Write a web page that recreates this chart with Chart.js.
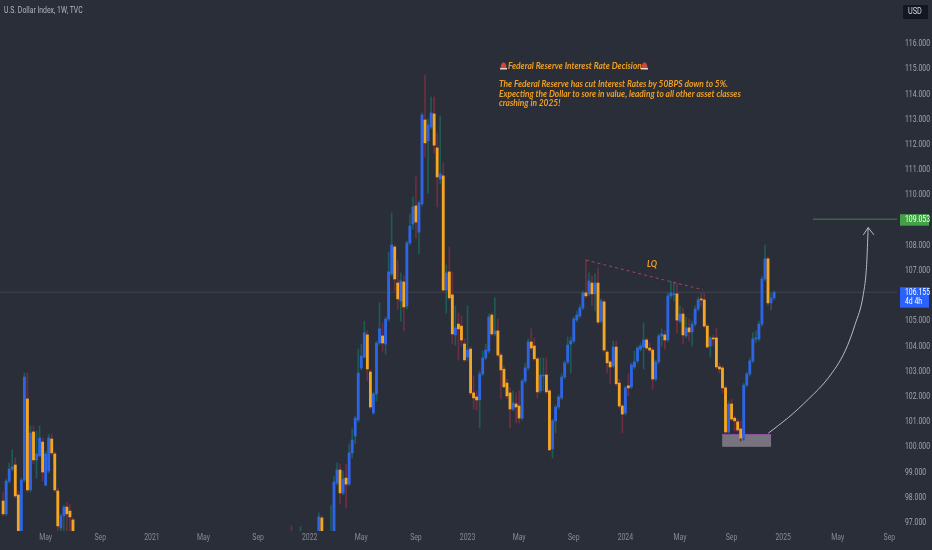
<!DOCTYPE html>
<html>
<head>
<meta charset="utf-8">
<title>U.S. Dollar Index</title>
<script src="https://cdn.jsdelivr.net/npm/chart.js@4"></script>
<style>
  html, body { margin: 0; padding: 0; background: #2a2e39; overflow: hidden; }
  canvas { display: block; }
</style>
</head>
<body>
<canvas id="dxyChart" width="932" height="550"></canvas>
<script>
// Weekly candles, x is the week number counted from the first visible bar.
// Weeks between the runs sit below the visible price range.
const weeks = [
    0, 1, 2, 3, 4, 5, 6, 7, 8, 9, 10, 11, 12, 13, 14, 15, 16, 17, 18, 19, 20, 21, 22, 23,
    95, 98, 104, 105,
    108, 109, 110, 111, 112, 113, 114, 115, 116, 117, 118, 119, 120, 121, 122, 123, 124, 125, 126, 127,
    128, 129, 130, 131, 132, 133, 134, 135, 136, 137, 138, 139, 140, 141, 142, 143, 144, 145, 146, 147,
    148, 149, 150, 151, 152, 153, 154, 155, 156, 157, 158, 159, 160, 161, 162, 163, 164, 165, 166, 167,
    168, 169, 170, 171, 172, 173, 174, 175, 176, 177, 178, 179, 180, 181, 182, 183, 184, 185, 186, 187,
    188, 189, 190, 191, 192, 193, 194, 195, 196, 197, 198, 199, 200, 201, 202, 203, 204, 205, 206, 207,
    208, 209, 210, 211, 212, 213, 214, 215, 216, 217, 218, 219, 220, 221, 222, 223, 224, 225, 226, 227,
    228, 229, 230, 231, 232, 233, 234, 235, 236, 237, 238, 239, 240, 241, 242, 243, 244, 245, 246, 247,
    248, 249, 250, 251, 252, 253, 254
];
const opens = [
    97.87, 97.36, 98.66, 99.14, 99.30, 98.11, 96.64, 98.70, 101.92, 98.31, 100.61, 99.50, 99.66, 100.21, 98.50, 99.06, 100.33, 99.74, 98.27, 96.80, 97.28, 97.63, 97.47, 97.12,
    96.50, 96.30, 96.60, 97.20,
    96.30, 96.60, 98.58, 99.10, 98.19, 98.78, 98.54, 99.78, 100.45, 101.08, 103.15, 103.58, 104.46, 102.99, 101.36, 102.12, 104.14, 104.42, 104.10, 105.09,
    106.88, 107.95, 106.52, 105.81, 106.56, 105.61, 108.11, 108.86, 109.58, 108.54, 109.66, 112.99, 112.16, 112.71, 113.23, 111.88, 110.65, 110.77, 106.24, 106.96,
    106.05, 104.46, 104.89, 104.81, 104.10, 103.58, 103.90, 102.16, 102.00, 101.88, 102.91, 103.55, 103.82, 105.25, 104.50, 104.62, 103.66, 103.10, 102.55, 102.16,
    101.52, 101.72, 101.64, 101.16, 102.63, 103.15, 104.18, 104.02, 103.51, 102.24, 102.83, 102.87, 102.24, 99.94, 101.05, 101.60, 101.96, 102.79, 103.39, 104.10,
    104.22, 105.05, 105.21, 105.53, 106.13, 106.09, 106.52, 106.09, 106.52, 105.01, 105.77, 103.78, 103.39, 103.23, 103.98, 102.55, 101.64, 101.36, 102.44, 102.40,
    103.19, 103.43, 103.90, 103.98, 104.26, 103.94, 103.86, 102.71, 103.39, 104.42, 104.46, 104.26, 106.01, 106.05, 106.09, 105.01, 105.29, 104.42, 104.74, 104.58,
    104.89, 105.49, 105.89, 105.85, 104.81, 104.02, 104.34, 104.34, 103.19, 103.15, 102.36, 100.61, 101.72, 101.16, 101.01, 100.73, 100.37, 102.47, 102.91, 103.43,
    104.30, 104.30, 104.89, 106.68, 107.48, 105.73, 105.93
];
const closes = [
    97.36, 98.66, 99.14, 99.22, 98.07, 96.64, 98.70, 102.79, 98.31, 100.57, 99.50, 99.74, 100.37, 99.02, 99.74, 100.37, 99.78, 98.31, 96.88, 97.28, 97.63, 97.36, 97.24, 96.64,
    96.40, 96.50, 97.24, 96.60,
    96.50, 98.62, 99.10, 98.19, 98.74, 98.54, 99.78, 100.29, 101.16, 102.95, 103.62, 104.54, 103.11, 101.60, 102.12, 104.14, 104.70, 104.14, 105.09, 106.96,
    108.03, 106.68, 105.89, 106.60, 105.57, 108.11, 108.78, 109.54, 108.94, 109.70, 113.19, 112.08, 112.79, 113.27, 111.99, 110.73, 110.85, 106.24, 106.92, 105.93,
    104.50, 104.74, 104.70, 104.26, 103.47, 103.86, 102.16, 101.96, 101.88, 102.91, 103.55, 103.86, 105.17, 104.50, 104.62, 103.66, 103.07, 102.40, 102.04, 101.52,
    101.76, 101.60, 101.16, 102.63, 103.15, 104.18, 103.94, 103.51, 102.20, 102.87, 102.87, 102.20, 99.90, 101.05, 101.60, 102.00, 102.79, 103.35, 104.06, 104.22,
    105.09, 105.25, 105.53, 106.13, 106.01, 106.60, 106.09, 106.52, 104.97, 105.81, 103.86, 103.35, 103.19, 103.98, 102.52, 101.64, 101.32, 102.36, 102.36, 103.27,
    103.39, 103.94, 104.02, 104.26, 103.94, 103.86, 102.71, 103.39, 104.42, 104.50, 104.26, 106.01, 106.13, 106.09, 105.05, 105.29, 104.46, 104.74, 104.58, 104.89,
    105.49, 105.85, 105.85, 104.81, 103.98, 104.34, 104.30, 103.19, 103.11, 102.36, 100.61, 101.72, 101.12, 101.05, 100.69, 100.37, 102.47, 102.91, 103.43, 104.30,
    104.34, 104.89, 106.68, 107.48, 105.73, 105.93, 106.155
];
const highs = [
    98.19, 98.74, 99.38, 99.90, 99.58, 98.27, 98.78, 102.95, 102.95, 100.85, 100.85, 100.65, 100.85, 100.37, 99.86, 100.53, 100.53, 99.82, 98.39, 97.36, 97.71, 97.83, 97.75, 97.20,
    96.88, 96.84, 97.40, 97.28,
    97.71, 98.86, 99.38, 99.34, 99.06, 99.34, 100.13, 100.73, 101.24, 103.90, 104.10, 105.01, 104.62, 103.07, 102.20, 104.22, 105.73, 104.94, 105.17, 107.75,
    109.30, 108.03, 107.40, 106.92, 106.80, 108.19, 109.26, 109.93, 110.73, 109.78, 113.27, 114.78, 113.03, 113.90, 113.90, 112.47, 113.15, 111.28, 107.24, 107.95,
    106.96, 105.61, 105.33, 105.21, 104.30, 105.61, 103.98, 102.83, 102.24, 103.03, 103.82, 104.10, 105.29, 105.33, 105.93, 105.09, 103.74, 103.23, 102.71, 102.36,
    102.24, 102.16, 102.24, 102.71, 103.35, 104.30, 104.70, 104.34, 103.58, 103.55, 103.55, 103.55, 102.32, 101.12, 101.68, 102.08, 102.91, 103.43, 104.38, 104.38,
    105.17, 105.41, 105.65, 106.21, 107.44, 106.92, 106.80, 106.88, 107.12, 105.89, 105.85, 103.86, 103.47, 104.22, 104.22, 102.71, 101.72, 102.44, 102.91, 103.35,
    103.82, 104.02, 104.14, 104.94, 104.34, 104.14, 103.94, 103.47, 104.50, 104.70, 104.62, 106.13, 106.60, 106.56, 106.52, 105.61, 105.53, 105.17, 105.09, 105.01,
    105.61, 105.97, 106.13, 106.13, 104.89, 104.42, 104.46, 104.74, 103.35, 103.23, 102.44, 101.84, 101.92, 101.24, 101.12, 101.05, 102.55, 102.99, 103.55, 104.54,
    104.62, 105.01, 106.80, 108.03, 107.56, 106.13, 106.21
];
const lows = [
    97.28, 97.28, 98.58, 99.06, 97.99, 96.60, 96.60, 98.62, 98.23, 98.23, 99.34, 98.78, 99.62, 98.66, 98.47, 98.98, 99.70, 98.23, 96.60, 96.60, 96.64, 96.60, 96.60, 96.60,
    96.30, 96.20, 96.60, 96.60,
    96.20, 96.60, 98.50, 97.75, 98.11, 97.59, 98.47, 99.58, 100.13, 101.00, 103.07, 103.54, 102.63, 101.52, 101.32, 101.84, 104.06, 103.82, 103.70, 105.01,
    106.80, 106.21, 105.49, 105.01, 104.62, 105.49, 108.03, 108.66, 108.31, 107.67, 109.58, 111.52, 110.09, 112.63, 111.68, 109.54, 110.45, 106.16, 105.33, 105.85,
    104.10, 104.06, 103.47, 104.02, 103.39, 103.43, 102.08, 101.52, 101.48, 100.77, 102.83, 103.47, 103.74, 104.42, 104.42, 103.58, 101.92, 102.36, 101.92, 100.77,
    101.44, 100.97, 100.97, 101.08, 102.55, 103.07, 103.86, 103.43, 101.96, 102.16, 102.24, 102.12, 99.86, 99.58, 100.57, 101.52, 101.88, 102.71, 103.31, 102.95,
    104.14, 104.98, 105.13, 105.45, 105.93, 106.01, 105.61, 105.41, 104.89, 104.94, 103.78, 102.95, 102.52, 103.15, 102.44, 101.56, 100.57, 101.28, 102.04, 102.32,
    103.11, 103.35, 103.82, 103.11, 103.86, 103.78, 102.32, 102.63, 103.31, 104.02, 103.90, 104.18, 105.89, 105.81, 104.54, 104.94, 104.10, 104.34, 104.22, 104.02,
    104.81, 105.41, 105.61, 104.74, 103.94, 103.58, 104.02, 103.11, 102.95, 102.16, 100.53, 100.53, 101.05, 100.65, 100.61, 100.25, 100.29, 102.40, 102.83, 103.35,
    104.14, 104.22, 104.81, 106.60, 105.61, 105.45, 105.85
];

// Axis labels
const priceTicks = [116, 115, 114, 113, 112, 111, 110, 108, 107, 105, 104, 103, 102, 101, 100, 99, 98, 97];
const timeWeeks = [14, 32, 49, 66, 84, 101, 118, 136, 153, 170, 188, 205, 223, 240, 257, 275, 292];
const timeLabels = ['May', 'Sep', '2021', 'May', 'Sep', '2022', 'May', 'Sep', '2023', 'May', 'Sep', '2024', 'May', 'Sep', '2025', 'May', 'Sep'];

// Drawings on the chart, in week / price
const lastPrice = 106.155;
const targetPrice = 109.053;
const targetWeeks = [266.8, 294.5];
const lqWeeks = [192, 230.6];
const lqPrices = [107.43, 106.25];
const boxWeeks = [236.9, 253];
const boxPrices = [100.53, 100.02];
const arcWeeks = [252.1, 258.7, 265.3, 271.9, 277.4, 280.7, 283.4, 284.5, 285];
const arcPrices = [100.56, 101.18, 101.91, 102.76, 103.82, 104.88, 106.07, 107.26, 108.72];
const headWeeks = [283.4, 285, 286.9];
const headPrices = [108.43, 108.72, 108.43];

const UP_BODY = '#2e65e6';
const DOWN_BODY = '#f5a623';
const UP_WICK = '#1f5b54';
const DOWN_WICK = '#6d2f40';
const LABEL_FONT = '8.6px Roboto';

document.addEventListener('DOMContentLoaded', function() {
    initPriceChart();
});

// Chart.js keeps room for the outer tick labels, the pane here runs edge to edge
function clearScalePadding(scale) {
    scale.paddingTop = 0;
    scale.paddingBottom = 0;
    scale.paddingLeft = 0;
    scale.paddingRight = 0;
}

// The screenshot text is narrower than any installed font, so squeeze it sideways
function narrowText(ctx, text, x, y, squeeze) {
    ctx.save();
    ctx.translate(x, y);
    ctx.scale(squeeze, 1);
    ctx.fillText(text, 0, 0);
    ctx.restore();
}

// Box under the candles, text and price tags on top
const drawingsPlugin = {
    id: 'drawings',
    beforeDatasetsDraw(chart) {
        const { ctx, scales: { x, y } } = chart;
        const left = x.getPixelForValue(boxWeeks[0]);
        const right = x.getPixelForValue(boxWeeks[1]);
        const top = y.getPixelForValue(boxPrices[0]);
        const bottom = y.getPixelForValue(boxPrices[1]);
        ctx.save();
        ctx.fillStyle = '#77737f';
        ctx.fillRect(left, top, right - left, bottom - top);
        ctx.fillStyle = '#8a4fa0';
        ctx.fillRect(left, top, right - left, 1);
        ctx.restore();
    },
    afterDraw(chart) {
        const { ctx, scales: { x, y } } = chart;
        ctx.save();
        ctx.textBaseline = 'middle';

        // Tick labels come from the scales, only the drawing is done here
        ctx.font = LABEL_FONT;
        ctx.fillStyle = '#a3a6af';
        y.ticks.forEach((tick, i) => {
            narrowText(ctx, tick.label, 905, y.getPixelForTick(i), 0.8);
        });
        ctx.fillStyle = '#868b97';
        ctx.textAlign = 'center';
        x.ticks.forEach((tick, i) => {
            narrowText(ctx, tick.label, x.getPixelForTick(i), 537.5, 0.8);
        });
        ctx.textAlign = 'left';

        // Header
        ctx.fillStyle = '#b2b5be';
        narrowText(ctx, 'U.S. Dollar Index, 1W, TVC', 4, 11, 0.8);

        // Currency box
        ctx.fillStyle = '#131722';
        ctx.fillRect(903, 5, 25, 14);
        ctx.fillStyle = '#d1d4dc';
        narrowText(ctx, 'USD', 908, 12, 0.85);

        // Note
        ctx.fillStyle = '#ef9f22';
        ctx.font = 'italic bold 9.4px Lato';
        narrowText(ctx, 'Federal Reserve Interest Rate Decision', 508, 66, 0.89);
        narrowText(ctx, 'The Federal Reserve has cut Interest Rates by 50BPS down to 5%.', 499, 84, 0.89);
        narrowText(ctx, 'Expecting the Dollar to sore in value, leading to all other asset classes', 499, 94, 0.89);
        narrowText(ctx, 'crashing in 2025!', 499, 103, 0.89);
        narrowText(ctx, 'LQ', 647, 264, 0.89);
        drawAlarm(ctx, 500, 62);
        drawAlarm(ctx, 641, 62);

        // Price tags
        const targetY = y.getPixelForValue(targetPrice);
        const lastY = y.getPixelForValue(lastPrice);
        ctx.font = LABEL_FONT;
        ctx.fillStyle = '#43a047';
        ctx.fillRect(900, targetY - 5, 29, 11.5);
        ctx.fillStyle = '#2962ff';
        ctx.fillRect(900, lastY - 5, 29, 20.5);
        ctx.fillStyle = '#ffffff';
        narrowText(ctx, targetPrice.toFixed(3), 905, targetY + 1, 0.8);
        narrowText(ctx, lastPrice.toFixed(3), 905, lastY + 1, 0.8);
        narrowText(ctx, '4d 4h', 905, lastY + 10, 0.8);
        ctx.restore();
    }
};

// Small red alarm light next to the note title
function drawAlarm(ctx, x, y) {
    ctx.fillStyle = '#d8443c';
    ctx.beginPath();
    ctx.moveTo(x + 0.5, y + 6);
    ctx.bezierCurveTo(x + 0.5, y - 1.5, x + 6.5, y - 1.5, x + 6.5, y + 6);
    ctx.closePath();
    ctx.fill();
    ctx.fillStyle = '#d9d9d9';
    ctx.fillRect(x, y + 6, 7, 1.5);
}

// Price Chart
function initPriceChart() {
    const ctx = document.getElementById('dxyChart');
    if (!ctx) return;

    const isUp = weeks.map((w, i) => closes[i] >= opens[i]);
    const lineStyle = { type: 'line', pointRadius: 0, fill: false, order: 0 };

    new Chart(ctx, {
        type: 'bar',
        data: {
            datasets: [
                {
                    label: 'Bodies',
                    data: weeks.map((w, i) => ({ x: w, y: [opens[i], closes[i]] })),
                    backgroundColor: isUp.map(up => up ? UP_BODY : DOWN_BODY),
                    barThickness: 2.2,
                    minBarLength: 1,
                    grouped: false,
                    order: 1
                },
                {
                    label: 'Wicks',
                    data: weeks.map((w, i) => ({ x: w, y: [lows[i], highs[i]] })),
                    backgroundColor: isUp.map(up => up ? UP_WICK : DOWN_WICK),
                    barThickness: 1,
                    grouped: false,
                    order: 2
                },
                {
                    ...lineStyle,
                    label: 'Last price',
                    data: [{ x: -2, y: lastPrice }, { x: 296, y: lastPrice }],
                    borderColor: 'rgba(120, 125, 150, 0.28)',
                    borderWidth: 1,
                    order: 3
                },
                {
                    ...lineStyle,
                    label: 'Target',
                    data: targetWeeks.map(w => ({ x: w, y: targetPrice })),
                    borderColor: '#4b8052',
                    borderWidth: 1
                },
                {
                    ...lineStyle,
                    label: 'LQ',
                    data: lqWeeks.map((w, i) => ({ x: w, y: lqPrices[i] })),
                    borderColor: '#a5455c',
                    borderWidth: 1,
                    borderDash: [3, 3]
                },
                {
                    ...lineStyle,
                    label: 'Arc',
                    data: arcWeeks.map((w, i) => ({ x: w, y: arcPrices[i] })),
                    borderColor: '#b9bcc5',
                    borderWidth: 1,
                    cubicInterpolationMode: 'monotone'
                },
                {
                    ...lineStyle,
                    label: 'Arrow head',
                    data: headWeeks.map((w, i) => ({ x: w, y: headPrices[i] })),
                    borderColor: '#b9bcc5',
                    borderWidth: 1
                }
            ]
        },
        options: {
            responsive: false,
            animation: false,
            events: [],
            layout: { padding: 0 },
            plugins: {
                legend: { display: false },
                tooltip: { enabled: false },
                title: { display: false }
            },
            scales: {
                x: {
                    type: 'linear',
                    min: -1.04,
                    max: 294.5,
                    offset: false,
                    grid: { display: false },
                    border: { display: false },
                    afterBuildTicks(scale) {
                        scale.ticks = timeWeeks.map(value => ({ value }));
                    },
                    afterFit(scale) {
                        scale.height = 19;
                        clearScalePadding(scale);
                    },
                    ticks: {
                        display: false,
                        autoSkip: false,
                        maxRotation: 0,
                        callback: value => timeLabels[timeWeeks.indexOf(value)]
                    }
                },
                y: {
                    position: 'right',
                    min: 96.68,
                    max: 117.75,
                    grid: { display: false },
                    border: { display: false },
                    afterBuildTicks(scale) {
                        scale.ticks = priceTicks.map(value => ({ value }));
                    },
                    afterFit(scale) {
                        scale.width = 35;
                        clearScalePadding(scale);
                    },
                    ticks: {
                        display: false,
                        autoSkip: false,
                        callback: value => value.toFixed(3)
                    }
                }
            }
        },
        plugins: [drawingsPlugin]
    });
}
</script>
</body>
</html>
